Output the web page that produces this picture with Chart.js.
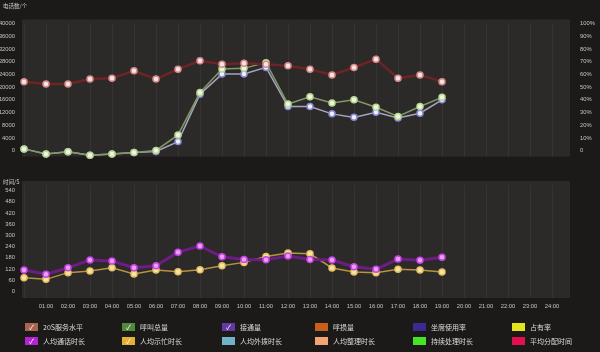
<!DOCTYPE html>
<html>
<head>
<meta charset="utf-8">
<script src="https://cdn.jsdelivr.net/npm/chart.js@4.4.0/dist/chart.umd.min.js"></script>
<style>
body { margin: 0; background: #1c1a19; width: 600px; height: 352px; overflow: hidden; position: relative; font-family: "Noto Sans CJK SC", sans-serif; }
canvas { position: absolute; left: 0; }
#top { top: 0; }
#bottom { top: 178px; }
.title { position: absolute; left: 3px; color: #d0d0d0; font-size: 5.5px; line-height: 6px; }
.item { position: absolute; height: 12px; display: flex; align-items: center; color: #dcdcdc; font-size: 7px; white-space: nowrap; }
.box { width: 13px; height: 8px; margin-right: 5px; color: #fff; font-size: 7px; line-height: 8px; text-align: center; }
</style>
</head>
<body>
<canvas id="top" width="600" height="180"></canvas>
<canvas id="bottom" width="600" height="140"></canvas>
<div class="title" style="top:3px">电话数/个</div>
<div class="title" style="top:179px">时间/S</div>
<div id="legend"></div>
<script>
var hours = ['00:00', '01:00', '02:00', '03:00', '04:00', '05:00', '06:00', '07:00', '08:00', '09:00', '10:00', '11:00', '12:00',
    '13:00', '14:00', '15:00', '16:00', '17:00', '18:00', '19:00', '20:00', '21:00', '22:00', '23:00', '24:00'];

// top chart
var serviceLevel = [54.3, 52.4, 52.4, 56.3, 57.0, 62.8, 56.3, 64.1, 70.7, 68.0, 68.7, 68.0, 66.7, 64.1, 59.6, 65.4, 72.0, 57.0, 59.6, 54.3];
var callTotal = [600, -1000, -300, -1400, -1000, -500, 100, 5000, 18300, 25700, 25900, 27700, 14700, 17000, 15000, 16000, 13700, 10800, 13900, 16800];
var answered = [600, -1000, -300, -1400, -1000, -500, -200, 2900, 17800, 24100, 24100, 26200, 13900, 13900, 11600, 10500, 12100, 10300, 11800, 16000];
var countTicks = [0, 4000, 8000, 12000, 16000, 20000, 24000, 28000, 32000, 36000, 40000];
var pctTicks = [0, 10, 20, 30, 40, 50, 60, 70, 80, 90, 100];

// bottom chart (seconds)
var talkTime = [114, 91, 126, 168, 162, 126, 137, 210, 243, 185, 171, 169, 189, 171, 168, 132, 118, 173, 166, 182];
var busyTime = [73, 64, 100, 109, 126, 93, 114, 105, 116, 137, 155, 187, 205, 201, 125, 103, 100, 118, 114, 103];
var secTicks = [0, 60, 120, 180, 240, 300, 360, 420, 480, 540];

// legend
var legendNames = ['20S服务水平', '呼叫总量', '接通量', '呼损量', '坐席使用率', '占有率',
    '人均通话时长', '人均示忙时长', '人均外拨时长', '人均整理时长', '持续处理时长', '平均分配时间'];
var legendColors = ['#a8644e', '#4f8a38', '#6438a0', '#c8601c', '#3a2a92', '#e2e41e',
    '#b422d4', '#e2b032', '#72b2c8', '#f2a474', '#44e424', '#e21050'];
var legendChecked = [true, true, true, false, false, false, true, true, false, false, false, false];

var tickFont = { family: 'Liberation Sans', size: 5.8 };
var tickColor = '#c4c4c4';

var plotBg = {
    id: 'plotBg',
    beforeDraw(chart) {
        var ctx = chart.ctx, a = chart.chartArea;
        ctx.save();
        ctx.fillStyle = '#2c2a28';
        ctx.fillRect(a.left - 2, a.top - 4, 570 - a.left + 2, a.bottom - a.top + 4);
        ctx.restore();
    }
};

function lineSet(label, data, line, ring, fill, width, axis) {
    return {
        label: label,
        data: data,
        yAxisID: axis,
        borderColor: line,
        borderWidth: width,
        pointRadius: 3,
        pointBorderWidth: 1.5,
        pointBorderColor: ring,
        pointBackgroundColor: fill,
        tension: 0,
        clip: false
    };
}

function fixedTicks(list) {
    return function (s) { s.ticks = list.map(v => ({ value: v })); };
}

var xGrid = { color: 'rgba(255,255,255,0.05)', drawTicks: false };

new Chart(document.getElementById('top'), {
    type: 'line',
    data: {
        labels: hours,
        datasets: [
            lineSet('20S服务水平', serviceLevel, '#6e2424', '#d88a8a', '#f2e6e6', 2.5, 'yR'),
            lineSet('呼叫总量', callTotal, '#7f9868', '#b8d890', '#eef4e0', 1.5, 'y'),
            lineSet('接通量', answered, '#a6a4c0', '#8a88d8', '#f0f0fa', 1.5, 'y')
        ]
    },
    options: {
        responsive: false,
        animation: false,
        layout: { padding: { top: 18, bottom: 0, left: 0, right: 0 } },
        plugins: { legend: { display: false }, tooltip: { enabled: false } },
        scales: {
            x: {
                offset: false,
                grid: xGrid,
                border: { display: false },
                ticks: { display: false },
                afterFit(s) { s.height = 2; }
            },
            y: {
                position: 'left',
                min: -1800,
                max: 40000,
                grid: { display: false },
                border: { display: false },
                ticks: { color: tickColor, font: tickFont, padding: 1, callback: v => String(v) },
                afterBuildTicks: fixedTicks(countTicks),
                afterFit(s) { s.width = 24; }
            },
            yR: {
                position: 'right',
                min: -4.5,
                max: 100,
                grid: { display: false },
                border: { display: false },
                ticks: {
                    color: tickColor, font: tickFont, padding: 20,
                    callback: v => v === 0 ? '0' : v + '%'
                },
                afterBuildTicks: fixedTicks(pctTicks),
                afterFit(s) { s.width = 48; }
            }
        }
    },
    plugins: [plotBg]
});

new Chart(document.getElementById('bottom'), {
    type: 'line',
    data: {
        labels: hours,
        datasets: [
            lineSet('人均通话时长', talkTime, '#6c1c84', '#c844e4', '#e6a0f4', 3, 'y'),
            lineSet('人均示忙时长', busyTime, '#b89242', '#e8c060', '#f4e4a8', 1.5, 'y')
        ]
    },
    options: {
        responsive: false,
        animation: false,
        layout: { padding: { top: 7, bottom: 0, left: 0, right: 48 } },
        plugins: { legend: { display: false }, tooltip: { enabled: false } },
        scales: {
            x: {
                offset: false,
                grid: xGrid,
                border: { display: false },
                ticks: {
                    color: tickColor, font: tickFont, padding: 5, maxRotation: 0, autoSkip: false,
                    callback: (v, i) => i === 0 ? '' : hours[i]
                },
                afterFit(s) { s.height = 20; }
            },
            y: {
                min: -36,
                max: 570,
                grid: { display: false },
                border: { display: false },
                ticks: { color: tickColor, font: tickFont, padding: 1, callback: v => String(v) },
                afterBuildTicks: fixedTicks(secTicks),
                afterFit(s) { s.width = 24; }
            }
        }
    },
    plugins: [plotBg]
});

// html legend, 6 columns x 2 rows
var colX = [25, 122, 222, 315, 413, 512];
var legend = document.getElementById('legend');
legendNames.forEach((name, i) => {
    var el = document.createElement('div');
    el.className = 'item';
    el.style.left = colX[i % 6] + 'px';
    el.style.top = (i < 6 ? 321 : 335) + 'px';
    el.innerHTML = '<span class="box" style="background:' + legendColors[i] + '">' + (legendChecked[i] ? '✓' : '') + '</span>' + name;
    legend.appendChild(el);
});
</script>
</body>
</html>
